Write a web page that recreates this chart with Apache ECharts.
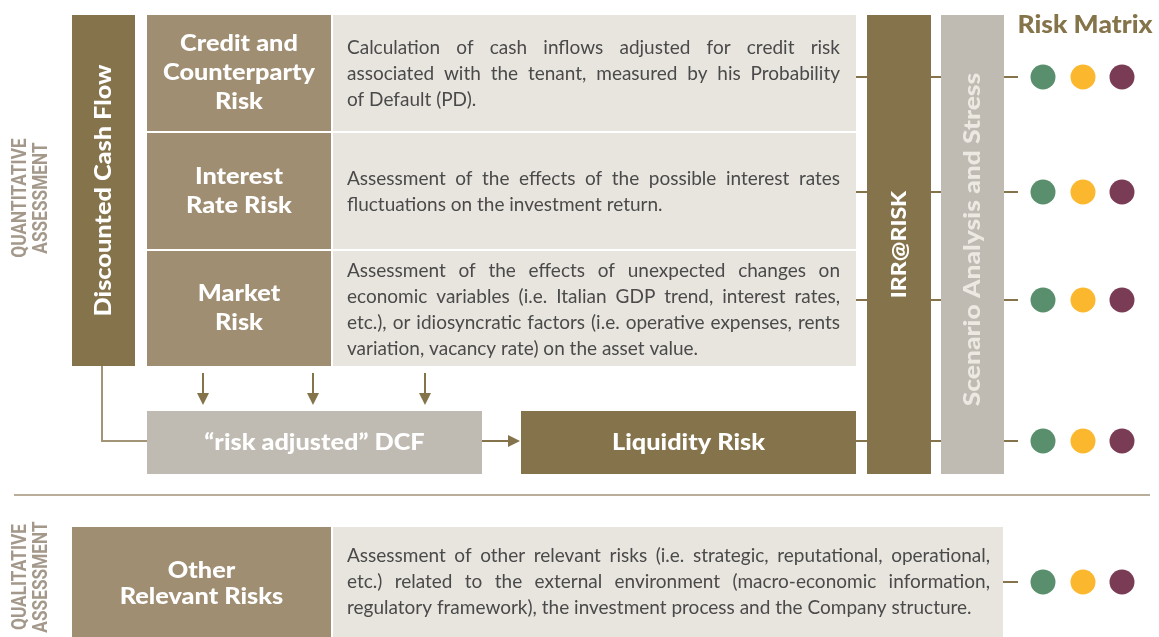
<!DOCTYPE html>
<html><head><meta charset="utf-8">
<script src="https://cdn.jsdelivr.net/npm/echarts@6/dist/echarts.min.js"></script>
<style>html,body{margin:0;padding:0;background:#fff}#c{width:1159px;height:637px}</style>
</head><body><div id="c"></div>
<script>
// ---------------- data ----------------
const sectionLabels = [['QUANTITATIVE', 'ASSESSMENT'], ['QUALITATIVE', 'ASSESSMENT']];
const modelLabel = 'Discounted Cash Flow';
const riskNames = ['Credit and\nCounterparty\nRisk', 'Interest\nRate Risk', 'Market\nRisk'];
const riskDescriptions = [
  ['Calculation of cash inflows adjusted for credit risk',
   'associated with the tenant, measured by his Probability',
   'of Default (PD).'],
  ['Assessment of the effects of the possible interest rates',
   'fluctuations on the investment return.'],
  ['Assessment of the effects of unexpected changes on',
   'economic variables (i.e. Italian GDP trend, interest rates,',
   'etc.), or idiosyncratic factors (i.e. operative expenses, rents',
   'variation, vacancy rate) on the asset value.']
];
const adjustedLabel = '\u201Crisk adjusted\u201D DCF';
const liquidityLabel = 'Liquidity Risk';
const irrLabel = 'IRR@RISK';
const scenarioLabel = 'Scenario Analysis and Stress';
const otherRiskName = 'Other\nRelevant Risks';
const otherRiskDescription = [
  'Assessment of other relevant risks (i.e. strategic, reputational, operational,',
  'etc.) related to the external environment (macro-economic information,',
  'regulatory framework), the investment process and the Company structure.'
];
const matrixTitle = 'Risk Matrix';
const matrixLevels = ['low', 'medium', 'high'];

// ---------------- styles & layout ----------------
const C = {
  dark: '#85734b', taupe: '#a08e72', light: '#e8e5df', grey: '#bfbab2',
  text: '#4a4a4a', scenText: '#ece9e3', title: '#85744a', section: '#a3988a',
  sep: '#b9ae9a', conn: '#a39377',
  levels: { low: '#5a8f6d', medium: '#fbb82f', high: '#7a3c55' }
};
const F = {
  title: '900 23px Lato', titleSX: 1.1,
  desc: '19px Lato',
  section: '700 21px Roboto', sectionRefLen: 106,
  matrix: '900 24px Lato', matrixSX: 1.1
};
const L = {
  dcf: { x: 72, y: 15, w: 63, h: 351 },
  nameX: 147, nameW: 184, descX: 333, descW: 523,
  rowTop: 15, rowH: 116, rowGap: 2,
  connY: [77, 192, 300, 441, 582],
  textX: 347, textR: 840, textLH: 26, titleLH: 29,
  arrowsX: [203, 313, 425], arrowY0: 373, arrowY1: 405,
  adj: { x: 147, y: 411, w: 335, h: 63 },
  liq: { x: 521, y: 411, w: 335, h: 63 },
  irr: { x: 867, y: 15, w: 64, h: 459 },
  scen: { x: 941, y: 15, w: 63, h: 459 },
  dotX: [1043, 1083, 1122], dotR: 12.5, stubEnd: 1018,
  sepY: 495, sepX0: 14, sepX1: 1150,
  other: { x: 72, y: 527, nameW: 259, descX: 333, descR: 1003, textR: 990, h: 120 },
  sectionX: [21, 42], sectionY: [198, 577],
  matrixTitle: { x: 1085, y: 25 }
};

// ---------------- helpers ----------------
const mctx = document.createElement('canvas').getContext('2d');
function measure(t, font) { mctx.font = font; return mctx.measureText(t).width; }
const els = [];
function rect(x, y, w, h, fill) {
  els.push({ type: 'rect', silent: true, shape: { x, y, width: w, height: h }, style: { fill } });
}
function text(t, x, y, font, fill, align, rot, lh, sx) {
  els.push({ type: 'text', silent: true, x, y, rotation: rot || 0, scaleX: sx || 1,
    style: { text: t, font, fill, textAlign: align || 'center', textVerticalAlign: 'middle', lineHeight: lh } });
}
function line(x1, y1, x2, y2, color, w) {
  els.push({ type: 'line', silent: true, shape: { x1, y1, x2, y2 }, style: { stroke: color, lineWidth: w || 2 } });
}
function para(lines, x, right, cy, lh, font, fill) {
  const n = lines.length;
  lines.forEach((ln, i) => {
    const y = cy + (i - (n - 1) / 2) * lh;
    const words = ln.split(' ');
    if (i === n - 1 || words.length < 2) {
      text(ln, x, y, font, fill, 'left');
      return;
    }
    const ws = words.map(w => measure(w, font));
    const tot = ws.reduce((a, b) => a + b, 0);
    const gap = (right - x - tot) / (words.length - 1);
    let cx = x;
    words.forEach((w, j) => { text(w, cx, y, font, fill, 'left'); cx += ws[j] + gap; });
  });
}

// ---------------- build ----------------
// section labels (condensed look via horizontal scale)
const secSX = F.sectionRefLen / measure(sectionLabels[1][0], F.section);
sectionLabels.forEach((pair, s) => {
  pair.forEach((t, k) => text(t, L.sectionX[k], L.sectionY[s], F.section, C.section, 'center', Math.PI / 2, null, secSX));
});
// DCF column
rect(L.dcf.x, L.dcf.y, L.dcf.w, L.dcf.h, C.dark);
text(modelLabel, L.dcf.x + L.dcf.w / 2, L.dcf.y + L.dcf.h / 2, F.title, '#ffffff', 'center', Math.PI / 2, null, F.titleSX);
// risk rows
riskNames.forEach((name, i) => {
  const y = L.rowTop + i * (L.rowH + L.rowGap);
  const h = i === riskNames.length - 1 ? L.rowH - 1 : L.rowH;
  rect(L.nameX, y, L.nameW, h, C.taupe);
  rect(L.descX, y, L.descW, h, C.light);
  text(name, L.nameX + L.nameW / 2, y + h / 2, F.title, '#ffffff', 'center', 0, L.titleLH, F.titleSX);
  para(riskDescriptions[i], L.textX, L.textR, y + h / 2 + 1, L.textLH, F.desc, C.text);
});
// arrows down
L.arrowsX.forEach(x => {
  line(x, L.arrowY0, x, L.arrowY1 - 10, C.dark, 2);
  els.push({ type: 'polygon', silent: true, shape: { points: [[x - 6, L.arrowY1 - 12], [x + 6, L.arrowY1 - 12], [x, L.arrowY1]] }, style: { fill: C.dark } });
});
// DCF connector
els.push({ type: 'polyline', silent: true, shape: { points: [[L.dcf.x + 30, L.dcf.y + L.dcf.h], [L.dcf.x + 30, L.connY[3]], [L.adj.x, L.connY[3]]] }, style: { stroke: C.conn, lineWidth: 2, fill: null } });
// risk adjusted DCF box
rect(L.adj.x, L.adj.y, L.adj.w, L.adj.h, C.grey);
text(adjustedLabel, L.adj.x + L.adj.w / 2, L.adj.y + L.adj.h / 2, F.title, '#ffffff', 'center', 0, null, F.titleSX);
// arrow right
line(L.adj.x + L.adj.w, L.connY[3], L.liq.x - 10, L.connY[3], C.dark, 2);
els.push({ type: 'polygon', silent: true, shape: { points: [[L.liq.x - 13, L.connY[3] - 6], [L.liq.x - 13, L.connY[3] + 6], [L.liq.x - 1, L.connY[3]]] }, style: { fill: C.dark } });
// liquidity box
rect(L.liq.x, L.liq.y, L.liq.w, L.liq.h, C.dark);
text(liquidityLabel, L.liq.x + L.liq.w / 2, L.liq.y + L.liq.h / 2, F.title, '#ffffff', 'center', 0, null, F.titleSX);
// IRR & scenario columns
rect(L.irr.x, L.irr.y, L.irr.w, L.irr.h, C.dark);
text(irrLabel, L.irr.x + L.irr.w / 2, L.irr.y + L.irr.h / 2, '900 21px Lato', '#ffffff', 'center', Math.PI / 2, null, F.titleSX);
rect(L.scen.x, L.scen.y, L.scen.w, L.scen.h, C.grey);
text(scenarioLabel, L.scen.x + L.scen.w / 2, L.scen.y + L.scen.h / 2 - 5, F.title, C.scenText, 'center', Math.PI / 2, null, 1.15);
// connectors to matrix
L.connY.slice(0, 4).forEach(y => {
  line(L.descX + L.descW, y, L.irr.x, y, C.dark, 2);
  line(L.irr.x + L.irr.w, y, L.scen.x, y, C.dark, 2);
  line(L.scen.x + L.scen.w, y, L.stubEnd, y, C.dark, 2);
});
// separator
line(L.sepX0, L.sepY, L.sepX1, L.sepY, C.sep, 2);
// other risks row
rect(L.other.x, L.other.y, L.other.nameW, L.other.h, C.taupe);
rect(L.other.descX, L.other.y, L.other.descR - L.other.descX, L.other.h, C.light);
text(otherRiskName, L.other.x + L.other.nameW / 2, L.connY[4] + 2, F.title, '#ffffff', 'center', 0, 26, F.titleSX);
para(otherRiskDescription, L.textX, L.other.textR, L.connY[4], L.textLH, F.desc, C.text);
line(L.other.descR, L.connY[4], L.stubEnd, L.connY[4], C.dark, 2);
// risk matrix
text(matrixTitle, L.matrixTitle.x, L.matrixTitle.y, F.matrix, C.title, 'center', 0, null, F.matrixSX);
L.connY.forEach(y => {
  matrixLevels.forEach((lv, k) => {
    els.push({ type: 'circle', silent: true, shape: { cx: L.dotX[k], cy: y, r: L.dotR }, style: { fill: C.levels[lv] } });
  });
});

const chart = echarts.init(document.getElementById('c'), null, { renderer: 'canvas' });
chart.setOption({ animation: false, backgroundColor: '#ffffff', graphic: { elements: els } });
</script></body></html>
